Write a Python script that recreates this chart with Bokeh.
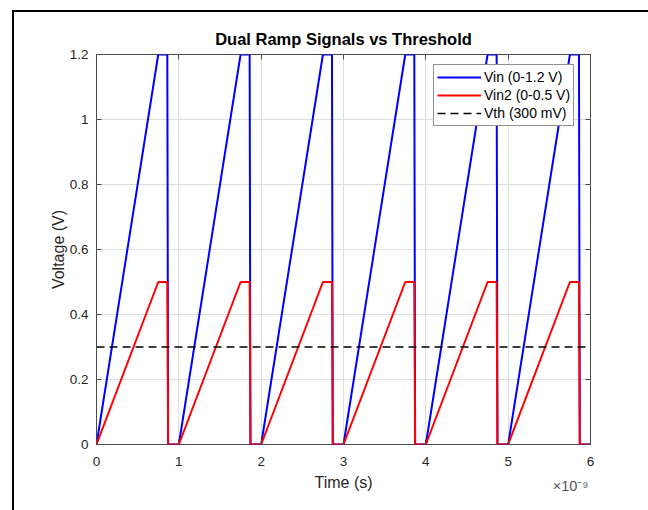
from bokeh.plotting import figure
from bokeh.models import (Range1d, FixedTicker, CustomJSTickFormatter, LinearAxis,
                          Title, InlineStyleSheet)
from bokeh.embed import file_html
from bokeh.resources import INLINE

# ---- data (time in units of 1e-9 s) ----
time_ns = [0.0, 0.75, 0.86, 0.87, 1.0,
           1.75, 1.86, 1.87, 2.0,
           2.75, 2.86, 2.87, 3.0,
           3.75, 3.86, 3.87, 4.0,
           4.75, 4.86, 4.87, 5.0,
           5.75, 5.86, 5.87, 6.0]
vin = [0.0, 1.2, 1.2, 0.0, 0.0,
       1.2, 1.2, 0.0, 0.0,
       1.2, 1.2, 0.0, 0.0,
       1.2, 1.2, 0.0, 0.0,
       1.2, 1.2, 0.0, 0.0,
       1.2, 1.2, 0.0, 0.0]
vin2 = [0.0, 0.5, 0.5, 0.0, 0.0,
        0.5, 0.5, 0.0, 0.0,
        0.5, 0.5, 0.0, 0.0,
        0.5, 0.5, 0.0, 0.0,
        0.5, 0.5, 0.0, 0.0,
        0.5, 0.5, 0.0, 0.0]
vth_time = [0.0, 6.0]
vth = [0.3, 0.3]
x_ticks = [0, 1, 2, 3, 4, 5, 6]
y_ticks = [0, 0.2, 0.4, 0.6, 0.8, 1.0, 1.2]
labels = ["Vin (0-1.2 V)", "Vin2 (0-0.5 V)", "Vth (300 mV)"]
x_exponent = "\u00d710\u207b\u2079"

FONT = "Liberation Sans"
AX = "#262626"

p = figure(width=648, height=510, output_backend="svg", toolbar_location=None,
           x_range=Range1d(0, 6), y_range=Range1d(0, 1.2),
           min_border_left=96, min_border_right=58, min_border_top=54,
           min_border_bottom=66, title="Dual Ramp Signals vs Threshold")
p.background_fill_color = "white"
p.border_fill_color = "white"
p.outline_line_color = "#4a4a4a"
p.outline_line_width = 1

p.title.text_font = FONT
p.title.text_font_size = "16.5px"
p.title.text_font_style = "bold"
p.title.align = "center"
p.title.text_color = "black"
p.title.standoff = 13

p.line(time_ns, vin, color="#0000ff", line_width=2, legend_label=labels[0])
p.line(time_ns, vin2, color="#ff0000", line_width=2, legend_label=labels[1])
p.line(vth_time, vth, color="black", line_width=1.6, line_dash="8 5",
       legend_label=labels[2])

p.add_layout(LinearAxis(), "above")
p.add_layout(LinearAxis(), "right")

for ax in p.xaxis:
    ax.ticker = FixedTicker(ticks=x_ticks)
for ax in p.yaxis:
    ax.ticker = FixedTicker(ticks=y_ticks)
    ax.formatter = CustomJSTickFormatter(code="return tick.toFixed(1).replace(/\\.0$/, '');")

for ax in p.axis:
    ax.axis_line_color = None
    ax.major_tick_in = 5
    ax.major_tick_out = 0
    ax.minor_tick_line_color = None
    ax.major_tick_line_color = "#4a4a4a"
    ax.major_label_text_font = FONT
    ax.major_label_text_font_size = "13.5px"
    ax.major_label_text_color = AX
    ax.axis_label_text_font = FONT
    ax.axis_label_text_font_size = "16px"
    ax.axis_label_text_font_style = "normal"
    ax.axis_label_text_color = AX

for ax in (p.above[0], p.right[0]):
    ax.major_label_text_font_size = "1px"
    ax.major_label_text_color = None
    ax.major_label_standoff = 0

p.below[0].axis_label = "Time (s)"
p.below[0].major_label_standoff = 12
p.below[0].axis_label_standoff = 5
p.left[0].axis_label = "Voltage (V)"
p.left[0].major_label_standoff = 8
p.left[0].axis_label_standoff = 0

p.xgrid.ticker = FixedTicker(ticks=x_ticks)
p.ygrid.ticker = FixedTicker(ticks=y_ticks)
p.xgrid.grid_line_color = "#dedede"
p.ygrid.grid_line_color = "#dedede"

lg = p.legend[0]
lg.location = (337, 318)
lg.margin = 0
lg.padding = 3
lg.spacing = 0
lg.glyph_width = 44
lg.glyph_height = 18
lg.label_height = 18
lg.label_standoff = 3
lg.label_text_font = FONT
lg.label_text_font_size = "14px"
lg.label_text_color = "black"
lg.border_line_color = AX
lg.border_line_width = 1
lg.background_fill_color = "white"
lg.background_fill_alpha = 1

# exponent label of the x axis, at its right end
p.add_layout(Title(text=x_exponent, align="right", vertical_align="top",
                   offset=2, standoff=-32,
                   text_font=FONT, text_font_size="14.5px", text_font_style="normal",
                   text_color="#555555"), "below")

# outer border of the picture (top and left edges)
p.stylesheets = [InlineStyleSheet(css="""
:host::after {
  content: "";
  position: absolute;
  left: 12px; top: 10px; right: -20px; bottom: -20px;
  border-top: 2px solid #000; border-left: 2px solid #000;
  pointer-events: none; z-index: 10;
}
""")]

open("out.html", "w").write(file_html(p, INLINE))
